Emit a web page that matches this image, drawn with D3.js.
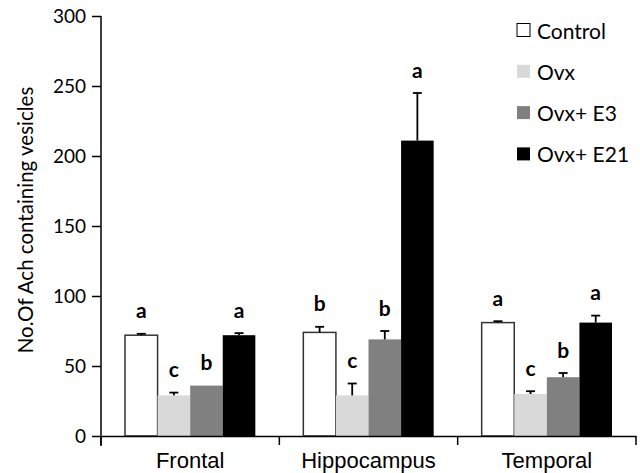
<!DOCTYPE html>
<html>
<head>
<meta charset="utf-8">
<script src="https://cdn.jsdelivr.net/npm/d3@7"></script>
<style>
  body { margin: 0; background: #fff; }
  svg { font-family: Lato, "Open Sans", sans-serif; }
</style>
</head>
<body>
<div class="container"></div>
<script>
var regions = ['Frontal', 'Hippocampus', 'Temporal'];
var groups = ['Control', 'Ovx', 'Ovx+ E3', 'Ovx+ E21'];
var yTicks = [0, 50, 100, 150, 200, 250, 300];

// mean values per group, one array per region
var frontal = [72, 29, 36, 72];
var hippocampus = [74, 29, 69, 211];
var temporal = [81, 30, 42, 81];

// error bar (upper) lengths
var frontalErr = [1, 2, 0, 1.5];
var hippocampusErr = [4, 8.5, 6, 34];
var temporalErr = [1, 2, 3, 5];

// significance letters
var frontalLetters = ['a', 'c', 'b', 'a'];
var hippocampusLetters = ['b', 'c', 'b', 'a'];
var temporalLetters = ['a', 'c', 'b', 'a'];

var drawChart = function () {
    var WIDTH = 640, HEIGHT = 473;
    var colors = ['#ffffff', '#d9d9d9', '#808080', '#000000'];

    var values = [frontal, hippocampus, temporal];
    var errors = [frontalErr, hippocampusErr, temporalErr];
    var letters = [frontalLetters, hippocampusLetters, temporalLetters];

    var rows = [];
    regions.forEach(function (r, i) {
        groups.forEach(function (g, j) {
            rows.push({region: r, group: g, value: values[i][j], err: errors[i][j], letter: letters[i][j], idx: j});
        });
    });

    var xScale = d3.scaleBand().domain(regions).range([101, 636]);
    var inner = d3.scaleBand().domain(groups).range([24, xScale.bandwidth() - 24]);
    var yScale = d3.scaleLinear().domain([0, 300]).range([436, 16]);

    var cx = function (d) { return xScale(d.region) + inner(d.group) + inner.bandwidth() / 2; };

    var svg = d3.select('.container').append('svg')
        .attr('width', WIDTH).attr('height', HEIGHT);

    // bars
    svg.append('g').selectAll('rect').data(rows).enter().append('rect')
        .attr('x', function (d) { return xScale(d.region) + inner(d.group); })
        .attr('y', function (d) { return yScale(d.value); })
        .attr('width', inner.bandwidth())
        .attr('height', function (d) { return yScale(0) - yScale(d.value); })
        .attr('fill', function (d) { return colors[d.idx]; })
        .attr('stroke', function (d) { return d.idx === 0 ? '#333' : 'none'; })
        .attr('stroke-width', 1.5);

    // error bars
    var eb = svg.append('g').attr('stroke', '#000').attr('stroke-width', 1.8)
        .selectAll('g').data(rows.filter(function (d) { return d.err > 0; })).enter().append('g');
    eb.append('line')
        .attr('x1', cx).attr('x2', cx)
        .attr('y1', function (d) { return yScale(d.value); })
        .attr('y2', function (d) { return yScale(d.value + d.err); });
    eb.append('line')
        .attr('x1', function (d) { return cx(d) - 4.5; })
        .attr('x2', function (d) { return cx(d) + 4.5; })
        .attr('y1', function (d) { return yScale(d.value + d.err); })
        .attr('y2', function (d) { return yScale(d.value + d.err); });

    // letters
    svg.append('g').selectAll('text').data(rows).enter().append('text')
        .attr('x', cx)
        .attr('y', function (d) { return yScale(d.value + d.err) - 24; })
        .attr('text-anchor', 'middle')
        .attr('dominant-baseline', 'central')
        .attr('font-weight', 'bold')
        .attr('font-size', 21)
        .text(function (d) { return d.letter; });

    // y axis
    var yAxis = d3.axisLeft(yScale).tickValues(yTicks).tickSize(9).tickPadding(6);
    var gy = svg.append('g').attr('transform', 'translate(101,0)').call(yAxis);
    gy.select('.domain').attr('d', 'M0,16V446').attr('stroke-width', 1.5);
    gy.selectAll('.tick line').attr('stroke-width', 1.5);
    gy.selectAll('text').attr('font-size', 19).attr('fill', '#000').attr('font-family', 'Lato, sans-serif');

    // x axis
    var xAxis = d3.axisBottom(xScale).tickValues([]).tickSizeOuter(0);
    var gx = svg.append('g').attr('transform', 'translate(0,436)').call(xAxis);
    gx.select('.domain').attr('stroke-width', 1.5);
    gx.selectAll('.sep').data(regions.concat(['end'])).enter().append('line')
        .attr('x1', function (d, i) { return i < regions.length ? xScale(d) : xScale.range()[1]; })
        .attr('x2', function (d, i) { return i < regions.length ? xScale(d) : xScale.range()[1]; })
        .attr('y1', 0).attr('y2', 9)
        .attr('stroke', '#000').attr('stroke-width', 1.5);
    gx.selectAll('.cat').data(regions).enter().append('text')
        .attr('x', function (d) { return xScale(d) + xScale.bandwidth() / 2; })
        .attr('y', 32)
        .attr('text-anchor', 'middle')
        .attr('font-size', 22)
        .attr('fill', '#000')
        .text(function (d) { return d; });

    // y title
    svg.append('text')
        .attr('transform', 'translate(25,220) rotate(-90)')
        .attr('text-anchor', 'middle')
        .attr('dominant-baseline', 'central')
        .attr('font-size', 20.5)
        .text('No.Of Ach containing vesicles');

    // legend
    var legend = svg.append('g').selectAll('g').data(groups).enter().append('g')
        .attr('transform', function (d, i) { return 'translate(517,' + (30 + i * 41.3) + ')'; });
    legend.append('rect')
        .attr('x', 0).attr('y', -6.5).attr('width', 13).attr('height', 13)
        .attr('fill', function (d, i) { return colors[i]; })
        .attr('stroke', function (d, i) { return i === 0 ? '#000' : 'none'; })
        .attr('stroke-width', 1);
    legend.append('text')
        .attr('x', 20).attr('y', 0)
        .attr('dominant-baseline', 'central')
        .attr('font-size', 21)
        .text(function (d) { return d; });
};

window.onload = drawChart;
</script>
</body>
</html>
